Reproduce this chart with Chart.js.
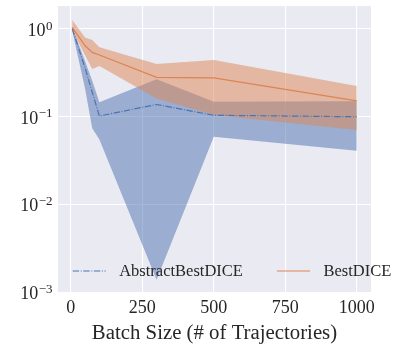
<!DOCTYPE html>
<html>
<head>
<meta charset="utf-8">
<script src="https://cdn.jsdelivr.net/npm/chart.js@4/dist/chart.umd.min.js"></script>
<style>
  html, body { margin: 0; padding: 0; background: #ffffff; }
  #wrap { width: 396px; height: 345px; }
</style>
</head>
<body>
<div id="wrap"><canvas id="c" width="396" height="345"></canvas></div>
<script>
// ---- data ----
const batchSizes = [5, 50, 75, 100, 300, 500, 1000];
const seriesNames = ['AbstractBestDICE', 'BestDICE'];
const abstractMean  = [1.01, 0.36, 0.19, 0.102, 0.138, 0.104, 0.100];
const abstractUpper = [1.05, 0.43, 0.257, 0.146, 0.267, 0.148, 0.150];
const abstractLower = [0.956, 0.209, 0.074, 0.055, 0.00139, 0.059, 0.041];
const bestMean  = [1.045, 0.645, 0.542, 0.505, 0.281, 0.278, 0.152];
const bestUpper = [1.27, 0.80, 0.75, 0.618, 0.399, 0.443, 0.224];
const bestLower = [0.97, 0.50, 0.35, 0.38, 0.162, 0.105, 0.0705];
const xTickValues = [0, 250, 500, 750, 1000];
const yTickValues = [0.001, 0.01, 0.1, 1];
const yTickExponents = ['\u22123', '\u22122', '\u22121', '0'];
const xAxisTitle = 'Batch Size (# of Trajectories)';

const BLUE = '#4C72B0', ORANGE = '#DD8452';
const BLUE_BAND = 'rgba(76,114,176,0.5)', ORANGE_BAND = 'rgba(221,132,82,0.5)';
const TEXT = '#262626';
const SERIF = '"Liberation Serif", "DejaVu Serif", serif';

const pts = arr => batchSizes.map((x, i) => ({x: x, y: arr[i]}));

function band(arr, color, order, fillTarget) {
  return {
    data: pts(arr), borderWidth: 0, pointRadius: 0, borderColor: 'rgba(0,0,0,0)',
    backgroundColor: color, fill: fillTarget, order: order, tension: 0
  };
}

const datasets = [
  {label: seriesNames[1], data: pts(bestMean), borderColor: ORANGE, borderWidth: 1.2,
   pointRadius: 0, fill: false, order: 0, tension: 0},
  band(bestUpper, ORANGE_BAND, 0, '+1'),
  band(bestLower, ORANGE_BAND, 0, false),
  {label: seriesNames[0], data: pts(abstractMean), borderColor: BLUE, borderWidth: 1.2,
   borderDash: [6.4, 1.6, 1, 1.6], pointRadius: 0, fill: false, order: 1, tension: 0},
  band(abstractUpper, BLUE_BAND, 1, '+1'),
  band(abstractLower, BLUE_BAND, 1, false)
];

const bgPlugin = {
  id: 'bg',
  beforeDraw(chart) {
    const a = chart.chartArea, ctx = chart.ctx;
    ctx.save();
    ctx.fillStyle = '#EAEAF2';
    ctx.fillRect(a.left, a.top, a.right - a.left, a.bottom - a.top);
    ctx.restore();
  }
};

const yLabelPlugin = {
  id: 'ylabels',
  afterDraw(chart) {
    const ctx = chart.ctx, ys = chart.scales.y, a = chart.chartArea;
    ctx.save();
    ctx.fillStyle = TEXT;
    ctx.textBaseline = 'alphabetic';
    yTickValues.forEach((v, i) => {
      const py = ys.getPixelForValue(v);
      const base = '10', exp = yTickExponents[i];
      ctx.font = '18px ' + SERIF;
      const wb = ctx.measureText(base).width;
      ctx.font = '13px ' + SERIF;
      const we = ctx.measureText(exp).width;
      const xEnd = a.left - 5.5;
      const x0 = xEnd - we - wb - 0.5;
      ctx.font = '18px ' + SERIF;
      ctx.textAlign = 'left';
      ctx.fillText(base, x0, py + 7);
      ctx.font = '13px ' + SERIF;
      ctx.fillText(exp, x0 + wb + 0.5, py + 0.5);
    });
    ctx.restore();
  }
};

const legendPlugin = {
  id: 'customLegend',
  afterDatasetsDraw(chart) {
    const ctx = chart.ctx;
    const items = [
      {label: seriesNames[0], color: BLUE, dash: [6.4, 1.6, 1, 1.6], x: 72.7},
      {label: seriesNames[1], color: ORANGE, dash: [], x: 277}
    ];
    const y = 271;
    ctx.save();
    items.forEach(it => {
      ctx.strokeStyle = it.color;
      ctx.lineWidth = 1.2;
      ctx.setLineDash(it.dash);
      ctx.beginPath();
      ctx.moveTo(it.x, y);
      ctx.lineTo(it.x + 33, y);
      ctx.stroke();
      ctx.setLineDash([]);
      ctx.fillStyle = TEXT;
      ctx.font = '16.5px ' + SERIF;
      ctx.textAlign = 'left';
      ctx.textBaseline = 'middle';
      ctx.fillText(it.label, it.x + 46.5, y + 1);
    });
    ctx.restore();
  }
};

new Chart(document.getElementById('c'), {
  type: 'line',
  data: {datasets: datasets},
  plugins: [bgPlugin, yLabelPlugin, legendPlugin],
  options: {
    responsive: false,
    animation: false,
    events: [],
    layout: {padding: {left: 0, right: 25, top: 6, bottom: 0}},
    plugins: {
      legend: {display: false},
      tooltip: {enabled: false},
      filler: {drawTime: 'beforeDatasetsDraw'}
    },
    scales: {
      x: {
        type: 'linear',
        min: -44.75, max: 1049.75,
        border: {display: false},
        grid: {color: '#ffffff', lineWidth: 1.1, drawTicks: false},
        afterBuildTicks(scale) { scale.ticks = xTickValues.map(v => ({value: v})); },
        afterFit(scale) { scale.height = 52; },
        ticks: {
          color: TEXT, padding: 4.5, maxRotation: 0,
          font: {family: SERIF, size: 18},
          callback: v => String(v)
        },
        title: {
          display: true, text: xAxisTitle, color: TEXT,
          font: {family: SERIF, size: 20.8, lineHeight: 1.15},
          padding: {top: 0, bottom: 0}
        }
      },
      y: {
        type: 'logarithmic',
        min: 0.00098, max: 1.83,
        border: {display: false},
        grid: {color: '#ffffff', lineWidth: 1.1, drawTicks: false},
        afterBuildTicks(scale) { scale.ticks = yTickValues.map(v => ({value: v})); },
        afterFit(scale) { scale.width = 58; },
        ticks: {display: false}
      }
    }
  }
});
</script>
</body>
</html>
